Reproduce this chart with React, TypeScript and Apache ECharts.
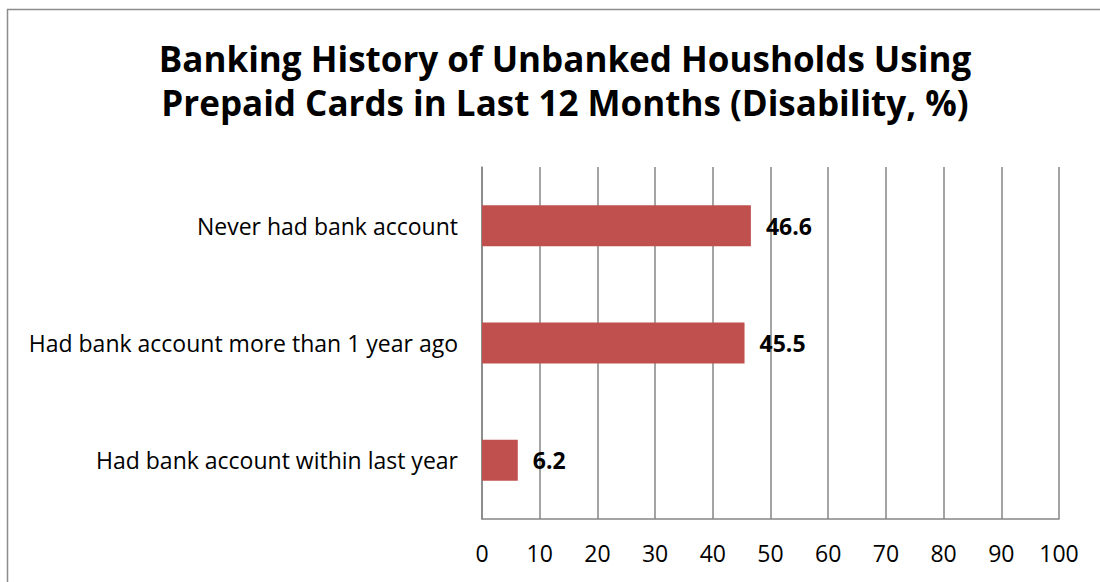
import React, { useEffect, useRef } from "react";
import * as echarts from "echarts";

const titleLines = [
  "Banking History of Unbanked Housholds Using",
  "Prepaid Cards in Last 12 Months (Disability, %)",
];
const categories = [
  "Had bank account within last year",
  "Had bank account more than 1 year ago",
  "Never had bank account",
];
const values = [6.2, 45.5, 46.6];
const xMin = 0;
const xMax = 100;
const xInterval = 10;

export default function App() {
  const ref = useRef<HTMLDivElement>(null);
  useEffect(() => {
    document.body.style.margin = "0";
    const chart = echarts.init(ref.current!, null, { renderer: "svg" });
    const font = "'Open Sans', sans-serif";
    chart.setOption({
      animation: false,
      backgroundColor: "#ffffff",
      title: {
        text: titleLines.join("\n"),
        left: 560,
        textAlign: "center",
        top: 31,
        textStyle: {
          fontFamily: font,
          fontWeight: "bold",
          fontSize: 35,
          lineHeight: 44,
          color: "#000000",
        },
      },
      graphic: [
        {
          type: "rect",
          shape: { x: 7.5, y: 9.5, width: 1200, height: 700 },
          style: { fill: "none", stroke: "#8c8c8c", lineWidth: 1.5 },
          silent: true,
        },
      ],
      grid: { left: 482, right: 41, top: 167, bottom: 63 },
      xAxis: {
        type: "value",
        min: xMin,
        max: xMax,
        interval: xInterval,
        axisLine: { show: true, lineStyle: { color: "#868686", width: 1.5 } },
        axisTick: { show: false },
        splitLine: { show: true, lineStyle: { color: "#868686", width: 1.5 } },
        axisLabel: {
          fontFamily: font,
          fontSize: 23,
          color: "#000000",
          margin: 22,
        },
      },
      yAxis: {
        type: "category",
        data: categories,
        axisLine: { show: true, lineStyle: { color: "#868686", width: 1.5 } },
        axisTick: { show: false },
        axisLabel: {
          fontFamily: font,
          fontSize: 23,
          color: "#000000",
          margin: 24,
        },
      },
      series: [
        {
          type: "bar",
          data: values,
          barWidth: 41,
          itemStyle: { color: "#C0504D" },
          label: {
            show: true,
            position: "right",
            distance: 15,
            fontFamily: font,
            fontWeight: "bold",
            fontSize: 23,
            color: "#000000",
          },
        },
      ],
    });
    return () => chart.dispose();
  }, []);
  return (
    <div
      ref={ref}
      style={{ width: 1100, height: 582, overflow: "hidden" }}
    />
  );
}
